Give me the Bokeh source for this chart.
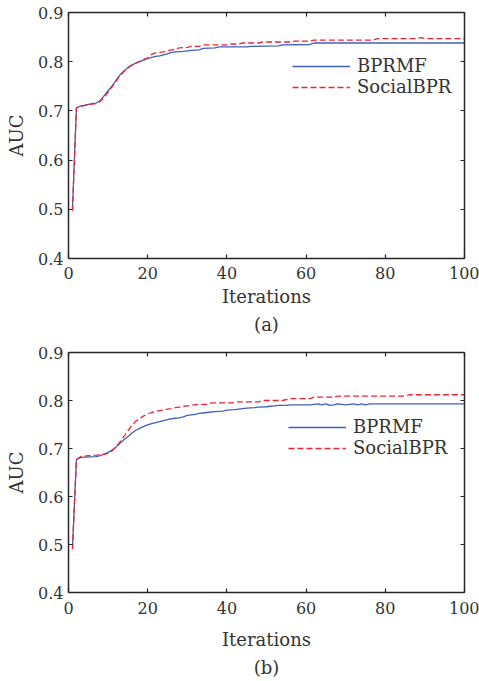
from bokeh.plotting import figure
from bokeh.models import (Range1d, LinearAxis, FixedTicker, Legend, LegendItem)
from bokeh.layouts import column
from bokeh.embed import file_html
from bokeh.resources import INLINE

# ---------------- data ----------------
# (a) top panel
a_bprmf_x = [1, 2, 3, 4, 5, 6, 7, 8, 9, 10, 11, 12, 13, 14, 15, 16, 17, 18, 19, 20,
             21, 22, 23, 24, 25, 26, 27, 29, 31, 33, 34, 37, 38, 45, 46, 53, 54, 61, 62, 100]
a_bprmf_y = [0.500, 0.706, 0.710, 0.711, 0.713, 0.715, 0.716, 0.721, 0.731, 0.741,
             0.751, 0.762, 0.773, 0.781, 0.788, 0.793, 0.797, 0.800, 0.803, 0.806,
             0.809, 0.811, 0.812, 0.814, 0.816, 0.819, 0.820, 0.821, 0.823, 0.824,
             0.827, 0.828, 0.830, 0.830, 0.831, 0.832, 0.834, 0.835, 0.838, 0.838]
a_social_x = [1, 2, 3, 4, 5, 7, 8, 9, 10, 11, 12, 13, 14, 15, 16, 17, 18, 19, 20, 21,
              22, 23, 24, 25, 26, 27, 28, 30, 31, 33, 34, 40, 41, 43, 44, 48, 49, 56, 57,
              61, 62, 77, 78, 88, 89, 90, 100]
a_social_y = [0.497, 0.706, 0.709, 0.711, 0.713, 0.715, 0.719, 0.727, 0.738, 0.749,
              0.760, 0.772, 0.780, 0.787, 0.793, 0.797, 0.801, 0.805, 0.808, 0.815,
              0.818, 0.819, 0.820, 0.822, 0.824, 0.826, 0.828, 0.829, 0.831, 0.831,
              0.834, 0.834, 0.836, 0.836, 0.838, 0.838, 0.840, 0.840, 0.842, 0.842,
              0.844, 0.844, 0.847, 0.847, 0.849, 0.847, 0.847]

# (b) bottom panel
b_bprmf_x = [1, 2, 3, 4, 7, 8, 9, 10, 11, 12, 13, 14, 15, 16, 17, 18, 19, 20, 21, 22,
             23, 24, 25, 26, 27, 28, 29, 30, 31, 32, 33, 34, 35, 36, 37, 39, 40, 42, 43,
             44, 45, 47, 48, 50, 51, 52, 53, 55, 56, 61, 62, 63, 64, 65, 66, 67, 68, 69,
             70, 71, 72, 73, 74, 75, 76, 100]
b_bprmf_y = [0.493, 0.677, 0.681, 0.682, 0.683, 0.685, 0.688, 0.692, 0.697, 0.703,
             0.711, 0.718, 0.725, 0.732, 0.738, 0.742, 0.746, 0.749, 0.752, 0.754,
             0.756, 0.758, 0.760, 0.762, 0.763, 0.764, 0.766, 0.769, 0.770, 0.771,
             0.773, 0.774, 0.775, 0.776, 0.777, 0.778, 0.780, 0.781, 0.782,
             0.783, 0.784, 0.785, 0.786, 0.787, 0.788, 0.789, 0.790, 0.790, 0.791,
             0.791, 0.792, 0.793, 0.791, 0.793, 0.790, 0.791, 0.793, 0.792,
             0.791, 0.792, 0.793, 0.791, 0.793, 0.791, 0.793, 0.793]
b_social_x = [1, 2, 3, 4, 5, 7, 8, 9, 10, 11, 12, 13, 14, 15, 16, 17, 18, 19, 20, 21,
              22, 23, 24, 25, 26, 27, 28, 29, 30, 31, 32, 33, 35, 36, 41, 42, 43, 48,
              49, 54, 55, 56, 61, 62, 67, 68, 85, 86, 100]
b_social_y = [0.490, 0.677, 0.683, 0.684, 0.685, 0.686, 0.687, 0.688, 0.690, 0.695,
              0.703, 0.714, 0.725, 0.737, 0.748, 0.757, 0.763, 0.768, 0.772, 0.775,
              0.777, 0.779, 0.780, 0.782, 0.783, 0.785, 0.786, 0.788, 0.789, 0.790,
              0.791, 0.792, 0.792, 0.795, 0.795, 0.796, 0.797, 0.797,
              0.800, 0.800, 0.802, 0.804, 0.804, 0.807, 0.807, 0.809, 0.809, 0.812, 0.812]

x_ticks = [0, 20, 40, 60, 80, 100]
y_ticks = [0.4, 0.5, 0.6, 0.7, 0.8, 0.9]
series_names = ["BPRMF", "SocialBPR"]
panel_labels = ["(a)", "(b)"]

FONT = "DejaVu Serif"
TXT = "#333333"
AXC = "#262626"
BLUE = "#4060bc"
RED = "#f22332"


def make_panel(bx, by, sx, sy, label, h, top_border, legend_loc,
               tick_standoff, label_standoff, title_standoff):
    p = figure(width=479, height=h, output_backend="svg", toolbar_location=None,
               x_range=Range1d(0, 100), y_range=Range1d(0.4, 0.9),
               title=label, title_location="below",
               min_border_left=68, min_border_right=15, min_border_top=top_border,
               min_border_bottom=h - top_border - 246)
    p.title.align = "center"
    p.title.text_font = FONT
    p.title.text_font_size = "18px"
    p.title.text_font_style = "normal"
    p.title.text_color = TXT
    p.title.standoff = title_standoff
    p.title.offset = 0
    p.grid.visible = False
    p.outline_line_color = None
    p.background_fill_color = "white"
    p.border_fill_color = "white"

    p.xaxis.ticker = FixedTicker(ticks=x_ticks)
    p.yaxis.ticker = FixedTicker(ticks=y_ticks)
    p.xaxis.axis_label = "Iterations"
    p.yaxis.axis_label = "AUC"
    for ax in (p.xaxis[0], p.yaxis[0]):
        ax.axis_label_text_font = FONT
        ax.axis_label_text_font_size = "18px"
        ax.axis_label_text_font_style = "normal"
        ax.axis_label_text_color = TXT
        ax.major_label_text_font = FONT
        ax.major_label_text_font_size = "16px"
        ax.major_label_text_color = TXT
        ax.major_tick_in = 4
        ax.major_tick_out = 0
        ax.minor_tick_line_color = None
        ax.axis_line_color = AXC
        ax.axis_line_width = 1.5
        ax.major_tick_line_color = AXC
        ax.major_tick_line_width = 1.2
    p.xaxis.major_label_standoff = tick_standoff
    p.xaxis.axis_label_standoff = label_standoff
    p.yaxis.major_label_standoff = 5
    p.yaxis.axis_label_standoff = 8

    for ticks, side in ((x_ticks, "above"), (y_ticks, "right")):
        ax = LinearAxis(ticker=FixedTicker(ticks=ticks), major_label_text_font_size="0px",
                        major_label_text_color=None,
                        major_label_standoff=0, major_tick_in=4, major_tick_out=0,
                        minor_tick_line_color=None, axis_line_color=AXC,
                        axis_line_width=1.5, major_tick_line_color=AXC,
                        major_tick_line_width=1.2)
        p.add_layout(ax, side)

    r1 = p.line(bx, by, line_color=BLUE, line_width=1.3)
    r2 = p.line(sx, sy, line_color=RED, line_width=1.3, line_dash="6 3")

    legend = Legend(items=[LegendItem(label=series_names[0], renderers=[r1]),
                           LegendItem(label=series_names[1], renderers=[r2])],
                    location=legend_loc, border_line_color=None,
                    background_fill_alpha=0, padding=0, spacing=0, margin=0,
                    label_standoff=7, glyph_width=58, glyph_height=20, label_height=20,
                    label_text_font=FONT, label_text_font_size="18px",
                    label_text_color=TXT)
    p.add_layout(legend, "center")
    return p


p1 = make_panel(a_bprmf_x, a_bprmf_y, a_social_x, a_social_y, panel_labels[0],
                339, 12, (224, 161), 8, 4, 4)
p2 = make_panel(b_bprmf_x, b_bprmf_y, b_social_x, b_social_y, panel_labels[1],
                341, 13, (220, 134), 9, 12, 5)

layout = column(p1, p2, spacing=0)
open("out.html", "w").write(file_html(layout, INLINE))
